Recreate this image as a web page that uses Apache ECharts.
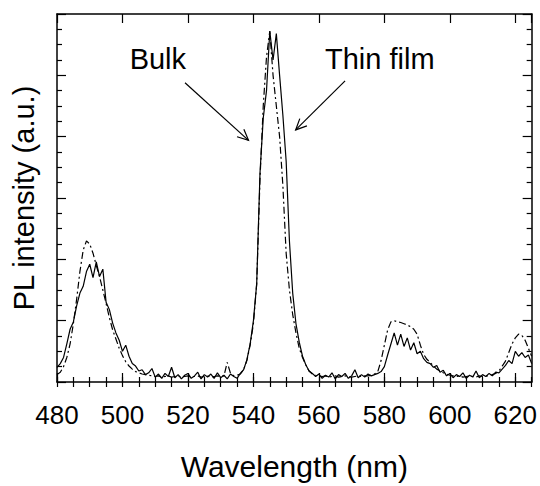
<!DOCTYPE html>
<html>
<head>
<meta charset="utf-8">
<title>PL spectra</title>
<script src="https://cdn.jsdelivr.net/npm/echarts@6/dist/echarts.min.js"></script>
<style>
  html, body { margin: 0; padding: 0; background: #fff; }
  #chart { width: 540px; height: 486px; }
</style>
</head>
<body>
<div id="chart"></div>
<script>
// spectra sampled every 1 nm starting at 480 nm
const startNm = 480
const stepNm = 1

// thin film (solid line)
const thinFilm = [
  0.24, 0.3, 0.4, 0.62, 0.86, 0.98, 1.24, 1.45, 1.56, 1.8,
  1.92, 1.7, 1.96, 1.72, 1.84, 1.3, 1.18, 0.96, 0.8, 0.68,
  0.5, 0.6, 0.42, 0.3, 0.26, 0.18, 0.2, 0.12, 0.15, 0.22,
  0.08, 0.13, 0.06, 0.14, 0.09, 0.24, 0.07, 0.12, 0.05, 0.11,
  0.14, 0.06, 0.1, 0.16, 0.05, 0.12, 0.08, 0.13, 0.06, 0.15,
  0.07, 0.11, 0.05, 0.13, 0.09, 0.06, 0.14, 0.2, 0.36, 0.62,
  1.0, 1.6, 3.4, 4.3, 4.75, 5.72, 5.25, 5.68, 5.0, 4.35,
  3.6, 2.3, 1.45, 0.95, 0.65, 0.42, 0.28, 0.18, 0.14, 0.09,
  0.13, 0.06, 0.11, 0.08, 0.15, 0.05, 0.12, 0.09, 0.14, 0.06,
  0.1, 0.2, 0.07, 0.12, 0.08, 0.13, 0.1, 0.12, 0.14, 0.17,
  0.25, 0.44, 0.62, 0.8, 0.6, 0.78, 0.58, 0.72, 0.52, 0.64,
  0.46, 0.5, 0.38, 0.32, 0.3, 0.24, 0.27, 0.16, 0.19, 0.1,
  0.14, 0.07, 0.12, 0.09, 0.15, 0.06, 0.11, 0.08, 0.18, 0.07,
  0.12, 0.09, 0.14, 0.1, 0.16, 0.15, 0.21, 0.27, 0.35, 0.3,
  0.5, 0.42, 0.48, 0.4, 0.44, 0.3
]

// bulk (dashed line)
const bulk = [
  0.12, 0.16, 0.25, 0.4, 0.62, 0.95, 1.35, 1.8, 2.15, 2.3,
  2.25, 2.1, 1.9, 1.72, 1.5, 1.28, 1.05, 0.85, 0.7, 0.55,
  0.43, 0.33, 0.26, 0.21, 0.17, 0.15, 0.13, 0.12, 0.11, 0.1,
  0.09, 0.1, 0.08, 0.09, 0.1, 0.08, 0.09, 0.1, 0.08, 0.09,
  0.1, 0.08, 0.09, 0.1, 0.08, 0.09, 0.1, 0.08, 0.09, 0.1,
  0.09, 0.1, 0.32, 0.14, 0.1, 0.11, 0.13, 0.2, 0.35, 0.6,
  0.95, 1.6, 3.3, 4.5, 5.3, 5.72, 5.0, 4.5, 4.0, 3.2,
  2.1, 1.5, 1.1, 0.8, 0.55, 0.4, 0.28, 0.18, 0.13, 0.11,
  0.1, 0.09, 0.1, 0.08, 0.09, 0.1, 0.08, 0.09, 0.1, 0.09,
  0.08, 0.09, 0.1, 0.09, 0.1, 0.1, 0.11, 0.13, 0.17, 0.35,
  0.6, 0.85, 0.98, 1.0, 0.98, 0.97, 0.95, 0.93, 0.9, 0.86,
  0.78, 0.6, 0.45, 0.37, 0.32, 0.26, 0.21, 0.18, 0.15, 0.13,
  0.11, 0.1, 0.09, 0.1, 0.08, 0.09, 0.1, 0.09, 0.08, 0.1,
  0.09, 0.1, 0.1, 0.12, 0.14, 0.18, 0.26, 0.34, 0.48, 0.62,
  0.72, 0.78, 0.76, 0.68, 0.55, 0.42
]

// annotations, in data units (nm, a.u.)
const noteTexts = ['Bulk', 'Thin film']
const notePos = [[510.8, 5.26], [578.6, 5.26]]
const arrowFrom = [[519.1, 4.88], [568.0, 4.91]]
const arrowTo = [[538.5, 3.94], [552.9, 4.11]]

const font = '"Liberation Sans", Arial, Helvetica, sans-serif'

function toPairs(values) {
  return values.map((v, i) => [startNm + i * stepNm, v])
}

const frameLine = {show: true, onZero: false, lineStyle: {color: '#000', width: 1.5}}
const majorTick = {show: true, inside: true, length: 9, lineStyle: {color: '#000', width: 1.2}}
const minorTick = {show: true, inside: true, length: 5, lineStyle: {color: '#000', width: 1.2}}

function xAxisPart(position, interval, tick, withLabels) {
  return {
    type: 'value',
    position: position,
    min: 480,
    max: 625,
    interval: interval,
    axisLine: withLabels !== null ? frameLine : {show: false},
    axisTick: tick,
    axisLabel: withLabels ? {
      show: true,
      color: '#000',
      fontSize: 26,
      fontFamily: font,
      margin: 20,
      showMaxLabel: false
    } : {show: false},
    splitLine: {show: false}
  }
}

const xAxes = [
  xAxisPart('bottom', 20, majorTick, true),
  xAxisPart('bottom', 5, minorTick, null),
  xAxisPart('top', 20, majorTick, false),
  xAxisPart('top', 5, minorTick, null)
]
xAxes[0].name = 'Wavelength (nm)'
xAxes[0].nameLocation = 'middle'
xAxes[0].nameGap = 69
xAxes[0].nameTextStyle = {color: '#000', fontSize: 30, fontFamily: font}

function yAxisPart(position) {
  return {
    type: 'value',
    position: position,
    min: 0,
    max: 6,
    interval: 1,
    axisLine: frameLine,
    axisTick: majorTick,
    minorTick: {show: true, splitNumber: 4, length: 5, lineStyle: {color: '#000', width: 1.2}},
    axisLabel: {show: false},
    splitLine: {show: false},
    minorSplitLine: {show: false}
  }
}

const yAxes = [yAxisPart('left'), yAxisPart('right')]
yAxes[0].name = 'PL intensity (a.u.)'
yAxes[0].nameLocation = 'middle'
yAxes[0].nameGap = 19
yAxes[0].nameTextStyle = {color: '#000', fontSize: 29, fontFamily: font}

const chart = echarts.init(document.getElementById('chart'), null, {renderer: 'svg'})

chart.setOption({
  animation: false,
  backgroundColor: '#fff',
  grid: {left: 57, right: 8, top: 14, bottom: 98, containLabel: false},
  xAxis: xAxes,
  yAxis: yAxes,
  series: [
    {
      name: 'Thin film',
      type: 'line',
      xAxisIndex: 0,
      yAxisIndex: 0,
      data: toPairs(thinFilm),
      symbol: 'none',
      lineStyle: {color: '#000', width: 1.2}
    },
    {
      name: 'Bulk',
      type: 'line',
      xAxisIndex: 0,
      yAxisIndex: 0,
      data: toPairs(bulk),
      symbol: 'none',
      lineStyle: {color: '#000', width: 1.2, type: [7, 3, 2, 3]}
    }
  ]
})

// text labels and open arrows, placed through the axes
const px = p => chart.convertToPixel({xAxisIndex: 0, yAxisIndex: 0}, p)
const graphics = []
noteTexts.forEach((t, i) => {
  const p = px(notePos[i])
  graphics.push({
    type: 'text',
    x: p[0],
    y: p[1],
    style: {
      text: t,
      fill: '#000',
      font: '29px ' + font,
      align: 'center',
      verticalAlign: 'middle',
      textAlign: 'center',
      textVerticalAlign: 'middle'
    }
  })
})
arrowFrom.forEach((f, i) => {
  const a = px(f)
  const b = px(arrowTo[i])
  const len = Math.hypot(b[0] - a[0], b[1] - a[1])
  const dx = (b[0] - a[0]) / len
  const dy = (b[1] - a[1]) / len
  const head = 12
  const ang = 25 * Math.PI / 180
  const wing = s => [
    b[0] - head * (dx * Math.cos(ang) - s * dy * Math.sin(ang)),
    b[1] - head * (dy * Math.cos(ang) + s * dx * Math.sin(ang))
  ]
  graphics.push({
    type: 'line',
    shape: {x1: a[0], y1: a[1], x2: b[0], y2: b[1]},
    style: {stroke: '#000', lineWidth: 1.2}
  })
  graphics.push({
    type: 'polyline',
    shape: {points: [wing(1), b, wing(-1)]},
    style: {stroke: '#000', lineWidth: 1.2, fill: null}
  })
})
chart.setOption({graphic: graphics})
</script>
</body>
</html>
